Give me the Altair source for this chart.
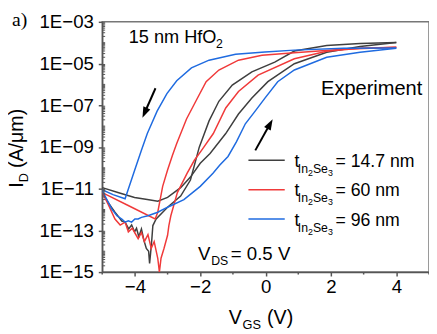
import altair as alt
import pandas as pd

# ---------------- data ----------------
v_black_rev = [4.00, 2.89, 1.87, 0.88, 0.28, -0.42, -1.02, -1.43, -1.73, -2.03, -2.30, -2.60, -3.00,
               -3.35, -3.45, -3.48, -3.52, -3.55, -3.58, -3.65, -3.72, -3.80, -3.88, -3.95, -4.01,
               -4.10, -4.19, -4.30, -4.40, -4.50, -4.61, -4.82, -5.00]
i_black_rev = [1.02e-4, 9.1e-5, 7.4e-5, 4.0e-5, 1.17e-5, 4.0e-6, 9.3e-7, 1.55e-7, 1.78e-8, 9.8e-10,
               2.6e-11, 4.4e-12, 1.29e-12, 3.5e-13, 1.7e-13, 4.0e-14, 7.9e-15, 2.6e-15, 1.0e-14,
               1.35e-14, 3.2e-14, 1.17e-13, 5.0e-14, 1.26e-13, 8.5e-14, 1.8e-13, 1.17e-13, 2.5e-13,
               2.8e-13, 4.5e-13, 7.4e-13, 2.2e-12, 6.5e-12]

v_black_fwd = [-5.00, -4.52, -4.01, -3.62, -3.30, -3.00, -2.60, -2.30, -2.00, -1.70, -1.22, -0.83,
               -0.42, 0.07, 0.88, 1.87, 2.89, 4.00]
i_black_fwd = [1.12e-11, 6.5e-12, 3.8e-12, 3.0e-12, 2.5e-12, 3.8e-12, 1.12e-11, 3.6e-11, 1.66e-10,
               4.9e-10, 4.4e-9, 3.8e-8, 2.2e-7, 1.35e-6, 9.8e-6, 3.5e-5, 6.6e-5, 1.02e-4]

v_red_rev = [4.00, 2.38, 0.88, -0.11, -0.83, -1.43, -1.82, -2.12, -2.42, -2.72, -2.85, -3.00, -3.15,
             -3.30, -3.38, -4.22, -5.00]
i_red_rev = [6.0e-5, 4.8e-5, 3.3e-5, 2.5e-5, 1.45e-5, 4.9e-6, 1.35e-6, 1.74e-7, 2.2e-8, 1.45e-9,
             4.0e-10, 7.8e-11, 1.29e-11, 7.4e-13, 3.5e-13, 1.6e-12, 6.5e-12]

v_red_fwd = [-5.00, -4.82, -4.61, -4.45, -4.30, -4.20, -4.08, -3.90, -3.80, -3.71, -3.60, -3.50,
             -3.41, -3.30, -3.25, -3.20, -3.11, -3.00, -2.96, -2.90, -2.70, -2.40, -2.18, -1.96,
             -1.60, -1.22, -0.83, -0.23, 0.88, 1.87, 2.89, 4.00]
i_red_fwd = [6.5e-12, 1.8e-12, 3.5e-13, 1.8e-13, 2.5e-13, 8.5e-14, 1.26e-13, 4.0e-14, 7.9e-14,
             2.9e-14, 6.3e-14, 1.35e-14, 2.9e-14, 4.6e-15, 1.0e-15, 4.6e-15, 1.35e-14, 5.8e-14,
             1.7e-13, 5.0e-13, 6.5e-12, 5.6e-11, 2.3e-10, 6.9e-10, 4.4e-9, 7.4e-8, 4.6e-7, 2.8e-6,
             1.7e-5, 3.9e-5, 5.4e-5, 6.0e-5]

v_blue_rev = [4.00, 2.38, 0.88, -0.02, -0.92, -1.73, -2.27, -2.72, -3.02, -3.32, -3.62, -3.80, -4.01,
              -4.30, -4.67, -5.00]
i_blue_rev = [5.6e-5, 5.4e-5, 4.4e-5, 3.6e-5, 2.8e-5, 1.45e-5, 6.2e-6, 1.5e-6, 3.6e-7, 5.2e-8,
              4.4e-9, 6.9e-10, 7.4e-11, 3.3e-12, 5.2e-12, 8.9e-12]

v_blue_fwd = [-5.00, -4.70, -4.55, -4.40, -4.30, -4.20, -4.10, -4.00, -3.90, -3.80, -3.60, -3.30,
              -3.00, -2.50, -2.00, -1.61, -1.40, -1.15, -0.89, -0.62, -0.32, -0.02, 0.37, 0.88,
              1.87, 2.89, 4.00]
i_blue_fwd = [8.1e-12, 1.02e-12, 5.0e-13, 3.5e-13, 2.5e-13, 2.9e-13, 2.5e-13, 3.5e-13, 3.5e-13,
              4.2e-13, 5.0e-13, 7.4e-13, 1.29e-12, 3.0e-12, 1.29e-11, 5.5e-11, 1.35e-10, 3.5e-10,
              1.8e-9, 1.29e-8, 5.2e-8, 2.2e-7, 1.35e-6, 4.9e-6, 2.0e-5, 3.5e-5, 5.4e-5]

devices = ["14.7", "60", "96"]
device_colors = ["#3f3f3f", "#f03a3a", "#1f6be0"]
legend_values = ["= 14.7 nm", "= 60 nm", "= 96 nm"]

x_tick_values = [-4, -2, 0, 2, 4]
x_tick_labels = ["\u22124", "\u22122", "0", "2", "4"]
x_minor_values = [-5, -3, -1, 1, 3, 5]
y_tick_values = [1e-3, 1e-5, 1e-7, 1e-9, 1e-11, 1e-13, 1e-15]
y_tick_labels = ["1E\u221203", "1E\u221205", "1E\u221207", "1E\u221209", "1E\u221211", "1E\u221213", "1E\u221215"]

# ---------------- table ----------------
series = [
    ("14.7", "rev", v_black_rev, i_black_rev),
    ("14.7", "fwd", v_black_fwd, i_black_fwd),
    ("60", "rev", v_red_rev, i_red_rev),
    ("60", "fwd", v_red_fwd, i_red_fwd),
    ("96", "rev", v_blue_rev, i_blue_rev),
    ("96", "fwd", v_blue_fwd, i_blue_fwd),
]
rows = []
for dev, sw, vals_v, vals_i in series:
    for k, (v, i) in enumerate(zip(vals_v, vals_i)):
        rows.append({"V": v, "I": i, "device": dev, "curve": dev + sw, "k": k})
df = pd.DataFrame(rows)

minor_y = []
for e in range(-15, -3):
    for m in range(1, 10):
        val = m * 10.0 ** e
        if not (m == 1 and e % 2 != 0):
            minor_y.append(val)
minor_y = [v for v in minor_y if 1e-15 <= v <= 1e-3]

SANS = "Liberation Sans"
SERIF = "Liberation Serif"
AX = "#555555"
W, H = 333, 255

xscale = alt.Scale(domain=[-5, 5], nice=False, zero=False)
yscale = alt.Scale(type="log", domain=[1e-15, 1e-3], nice=False)

label_expr_y = "[" + ",".join("'%s'" % s for s in y_tick_labels) + "][round((-log(datum.value)/LN10-3)/2)]"
label_expr_x = "[" + ",".join("'%s'" % s for s in x_tick_labels) + "][round((datum.value+4)/2)]"

x_axis = alt.Axis(values=x_tick_values, labelExpr=label_expr_x, title=None, grid=False,
                  labelFont=SANS, labelFontSize=19, labelColor="black", labelPadding=2,
                  tickSize=4, tickWidth=1.5, tickColor=AX, domainColor=AX, domainWidth=1.5,
                  labelFlush=False, labelOverlap=False)
y_axis = alt.Axis(values=y_tick_values, labelExpr=label_expr_y, title=None, grid=False,
                  labelFont=SANS, labelFontSize=19, labelColor="black", labelPadding=5,
                  tickSize=4, tickWidth=1.5, tickColor=AX, domainColor=AX, domainWidth=1.5,
                  labelFlush=False, labelOverlap=False)

lines = alt.Chart(df).mark_line(strokeWidth=1.5, clip=True).encode(
    x=alt.X("V:Q", scale=xscale, axis=x_axis),
    y=alt.Y("I:Q", scale=yscale, axis=y_axis),
    color=alt.Color("device:N", scale=alt.Scale(domain=devices, range=device_colors), legend=None),
    detail="curve:N",
    order="k:Q",
)

minor_y_ticks = alt.Chart(pd.DataFrame({"I": minor_y})).mark_rule(color=AX, strokeWidth=1).encode(
    y=alt.Y("I:Q", scale=yscale, axis=y_axis), x=alt.value(0), x2=alt.value(3))
minor_x_ticks = alt.Chart(pd.DataFrame({"V": x_minor_values})).mark_rule(color=AX, strokeWidth=1.5).encode(
    x=alt.X("V:Q", scale=xscale, axis=x_axis), y=alt.value(H), y2=alt.value(H + 2.5))

dummy = pd.DataFrame({"z": [0]})
OX, OY = 104, 19  # page position of plot origin


def txt(s, px, py, size=19, font=SANS, angle=0):
    return alt.Chart(dummy).mark_text(align="left", baseline="alphabetic", fontSize=size, font=font,
                                      color="black", angle=angle).encode(
        x=alt.value(px - OX), y=alt.value(py - OY), text=alt.value(s))


def rule(x1, y1, x2, y2, color="black", width=2):
    return alt.Chart(dummy).mark_rule(color=color, strokeWidth=width).encode(
        x=alt.value(x1 - OX), y=alt.value(y1 - OY), x2=alt.value(x2 - OX), y2=alt.value(y2 - OY))


def head(px, py, ang):
    return alt.Chart(dummy).mark_point(shape="M0,-1L0.7,1L-0.7,1Z", filled=True, size=121, angle=ang,
                                       color="black", opacity=1).encode(
        x=alt.value(px - OX), y=alt.value(py - OY))


layers = [lines, minor_y_ticks, minor_x_ticks]

# annotations
layers += [
    txt("a)", 12, 23, size=20, font=SERIF),
    txt("15 nm HfO", 131, 41, size=18.5),
    txt("2", 220, 45.5, size=12.5),
    txt("Experiment", 327, 94, size=20.4),
    txt("V", 201.7, 261.7, size=19),
    txt("DS", 215, 266.7, size=12.5),
    txt("= 0.5 V", 235, 261.7, size=19),
    # x title
    txt("V", 233, 326.5, size=20),
    txt("GS", 247, 331.5, size=13),
    txt("(V)", 272, 326.5, size=20),
    # y title (rotated)
    txt("I", 23.5, 188, size=20, angle=270),
    txt("D", 28, 182.4, size=13, angle=270),
    txt("(A/\u03bcm)", 23.5, 168, size=20, angle=270),
]

# arrows
layers += [
    rule(158.3, 86.7, 145.0 + 0.405 * 10, 116.7 - 0.914 * 10),
    head(145.0 + 0.405 * 5.5, 116.7 - 0.914 * 5.5, 204),
    rule(260, 150, 277.7 - 0.488 * 10, 118.3 + 0.873 * 10),
    head(277.7 - 0.488 * 5.5, 118.3 + 0.873 * 5.5, 29),
]

# legend
for j, (col, val) in enumerate(zip(device_colors, legend_values)):
    ly = 160 + 30 * j
    layers += [
        rule(253, ly, 290, ly, color=col, width=1.5),
        txt("t", 300, ly + 6.7, size=18),
        txt("In", 303.3, ly + 13, size=12.5),
        txt("2", 313.7, ly + 16, size=9),
        txt("Se", 318.7, ly + 13, size=12.5),
        txt("3", 334, ly + 16, size=9),
        txt(val, 341.7, ly + 6.7, size=18),
    ]

chart = alt.layer(*layers).properties(
    width=W, height=H, autosize="none",
    padding={"left": 96, "top": 11, "right": 0, "bottom": 60},
).configure_view(stroke="#777777", strokeWidth=1.5)

chart.save("out.html", embed_options={"renderer": "svg", "actions": False})
